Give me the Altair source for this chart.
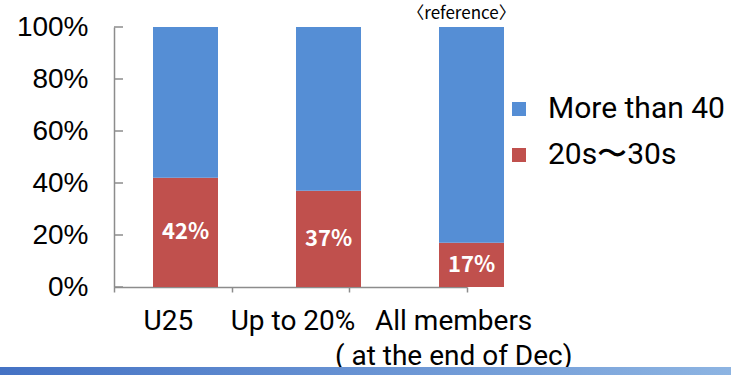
import json
import altair as alt
import pandas as pd

# ---- data ----
categories = ["U25", "Up to 20%", "All members"]
young_pct = [42, 37, 17]          # 20s~30s
older_pct = [58, 63, 83]          # More than 40
series = ["More than 40", "20s〜30s"]
colors = ["#558ED5", "#C0504D"]
y_ticks = [0, 20, 40, 60, 80, 100]
note = "〈reference〉"
third_label_lines = ["All members", "( at the end of Dec)"]

rows = []
for c, y, o in zip(categories, young_pct, older_pct):
    rows.append({"cat": c, "series": series[1], "value": y, "order": 0})
    rows.append({"cat": c, "series": series[0], "value": o, "order": 1})
df = pd.DataFrame(rows)
label_df = pd.DataFrame({"cat": categories, "value": young_pct})

NARROW = "Roboto, Liberation Sans, sans-serif"
JP = "Noto Sans CJK JP"
GRAY = "#8C8C8C"

bar_x = alt.X("cat:N", sort=categories, axis=None,
              scale=alt.Scale(type="band", range=[0, 429], paddingInner=0, paddingOuter=0))

bars = alt.Chart(df).mark_bar(size=65).encode(
    x=bar_x,
    y=alt.Y("value:Q", stack="zero",
            scale=alt.Scale(domain=[0, 100], nice=False),
            axis=alt.Axis(values=y_ticks, labelExpr="datum.value + '%'", grid=False,
                          ticks=False, domainColor=GRAY, domainWidth=1.5,
                          labelFont="Liberation Sans, Arial, sans-serif", labelFontSize=28,
                          labelColor="black", labelPadding=26, title=None)),
    color=alt.Color("series:N", scale=alt.Scale(domain=series, range=colors),
                    legend=alt.Legend(title=None, orient="none", legendX=390, legendY=67,
                                      symbolType="square", symbolSize=196,
                                      symbolStrokeWidth=0, labelFont=NARROW,
                                      labelFontSize=30, labelColor="black",
                                      labelOffset=14, rowPadding=16, labelLimit=400)),
    order=alt.Order("order:Q"),
)

bar_labels = alt.Chart(label_df).transform_calculate(
    mid="datum.value / 2", txt="datum.value + '%'"
).mark_text(color="white", font=JP, fontWeight="bold", fontSize=22, baseline="middle").encode(
    x=bar_x,
    y=alt.Y("mid:Q", title=None),
    text="txt:N",
)

annot = alt.Chart(pd.DataFrame({"cat": [categories[2]], "t": [note]})).mark_text(
    font=JP, fontSize=17, dx=-10, baseline="middle", color="black"
).encode(x=bar_x, y=alt.value(-13), text="t:N")

yticks = alt.Chart(pd.DataFrame({"t": y_ticks})).mark_rule(color=GRAY, strokeWidth=1.5).encode(
    y=alt.Y("t:Q", title=None), x=alt.value(0), x2=alt.value(9)
)

strip = alt.Chart(pd.DataFrame({"a": [0]})).mark_rect(
    color=alt.Gradient(gradient="linear",
                       stops=[alt.GradientStop(color="#4472C4", offset=0),
                              alt.GradientStop(color="#8DB4E2", offset=1)],
                       x1=0, x2=1, y1=0, y2=0)
).encode(x=alt.value(-114), x2=alt.value(617), y=alt.value(340), y2=alt.value(348))

label_expr = ("datum.value == 'All members' ? " + json.dumps(third_label_lines)
              + " : datum.value")
offset_expr = ("datum.value == 'U25' ? -5 : (datum.value == 'All members' ? 45 : 2)")

axis_layer = alt.Chart(pd.DataFrame({"cat": categories})).mark_point(opacity=0).encode(
    x=alt.X("cat:N", sort=categories,
            scale=alt.Scale(type="band", paddingInner=0, paddingOuter=0),
            axis=alt.Axis(title=None, tickBand="extent", domainColor=GRAY, domainWidth=1.5,
                          tickColor=GRAY, tickWidth=1.5, tickSize=5,
                          labelFont=NARROW, labelFontSize=28, labelColor="black",
                          labelPadding=15, labelAngle=0, labelLineHeight=35,
                          labelExpr=label_expr, labelOffset={"expr": offset_expr},
                          labelLimit=400, labelOverlap=False, labelBound=False)),
    y=alt.value(0),
)

inner = alt.layer(strip, bars, bar_labels, annot, yticks)
chart = alt.layer(inner, axis_layer).resolve_scale(x="independent").properties(
    width=353, height=260,
    autosize=alt.AutoSizeParams(type="none"),
    padding={"left": 114, "top": 27, "right": 264, "bottom": 88},
    background="white",
).configure_view(stroke=None)

chart.save("out.html", embed_options={"renderer": "svg", "actions": False})
